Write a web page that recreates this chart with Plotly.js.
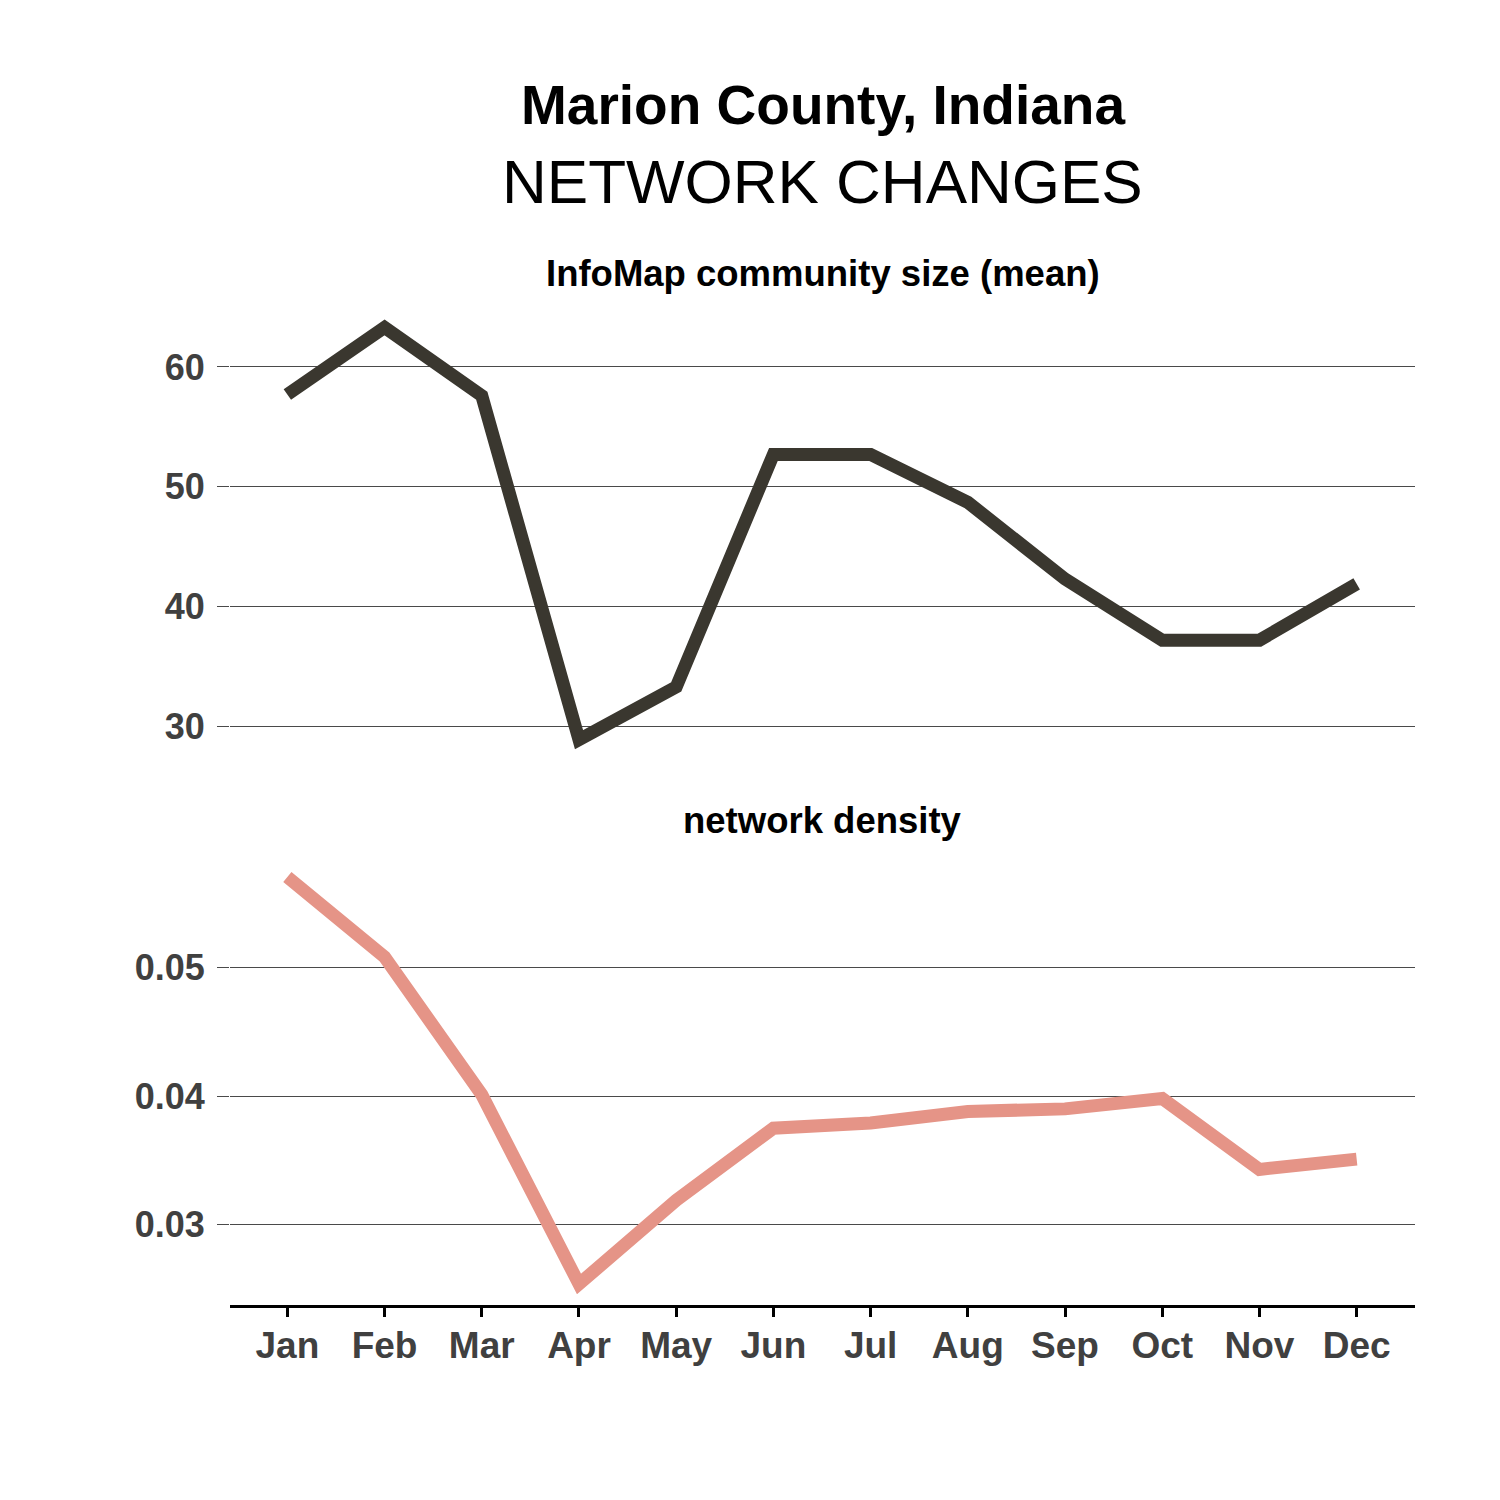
<!DOCTYPE html>
<html><head><meta charset="utf-8">
<script src="https://cdn.plot.ly/plotly-3.0.1.min.js"></script>
<style>body{margin:0;background:#fff}</style>
</head><body>
<div id="chart" style="width:1500px;height:1500px"></div>
<script>
const months = ["Jan","Feb","Mar","Apr","May","Jun","Jul","Aug","Sep","Oct","Nov","Dec"];
const communitySize = [57.7, 63.3, 57.6, 28.9, 33.3, 52.7, 52.7, 48.7, 42.3, 37.2, 37.2, 41.9];
const networkDensity = [0.0570, 0.0508, 0.0401, 0.0254, 0.0319, 0.0375, 0.0379, 0.0388, 0.0390, 0.0398, 0.0343, 0.0351];
const sizeTicks = [30, 40, 50, 60];
const densityTicks = [0.03, 0.04, 0.05];

const FONT = "Liberation Sans, Arial, sans-serif";
const H = 1500, T = 307, B = 195;
const plotH = H - T - B;
const py = px => (H - B - px) / plotH;

const traces = [
  {x: months, y: communitySize, xaxis: 'x', yaxis: 'y2', mode: 'lines', type: 'scatter',
   line: {color: '#3a372f', width: 13}, hoverinfo: 'skip'},
  {x: months, y: networkDensity, xaxis: 'x', yaxis: 'y', mode: 'lines', type: 'scatter',
   line: {color: '#e59487', width: 13}, hoverinfo: 'skip'}
];

const yCommon = {
  showline: false, zeroline: false, showgrid: true, gridcolor: '#4a4a4a', gridwidth: 1,
  ticks: 'outside', ticklen: 12, tickcolor: '#4a4a4a', tickwidth: 1, ticklabelstandoff: 5,
  tickfont: {family: FONT, size: 36, color: '#404040', weight: 'bold'}
};

const layout = {
  width: 1500, height: 1500,
  margin: {l: 230, r: 85, t: T, b: B},
  paper_bgcolor: '#fff', plot_bgcolor: '#fff',
  showlegend: false,
  xaxis: {
    type: 'category', range: [-0.59, 11.6], anchor: 'y',
    showline: true, linecolor: '#000', linewidth: 3,
    ticks: 'outside', ticklen: 9, tickwidth: 3, tickcolor: '#000', ticklabelstandoff: -3,
    showgrid: false, zeroline: false,
    tickfont: {family: FONT, size: 37, color: '#404040', weight: 'bold'}
  },
  yaxis: Object.assign({}, yCommon, {
    domain: [0, py(857)], range: [0.02377, 0.05856],
    tickvals: densityTicks, tickformat: '.2f'
  }),
  yaxis2: Object.assign({}, yCommon, {
    domain: [py(760), 1], range: [27.2, 65.0],
    tickvals: sizeTicks, anchor: 'x'
  }),
  annotations: [
    {text: '<b>Marion County, Indiana</b>', xref: 'paper', yref: 'paper', x: 0.5, y: py(105),
     xanchor: 'center', yanchor: 'middle', showarrow: false,
     font: {family: FONT, size: 55, color: '#000'}},
    {text: 'NETWORK CHANGES', xref: 'paper', yref: 'paper', x: 0.5, y: py(181),
     xanchor: 'center', yanchor: 'middle', showarrow: false,
     font: {family: FONT, size: 62, color: '#000'}},
    {text: '<b>InfoMap community size (mean)</b>', xref: 'paper', yref: 'paper', x: 0.5, y: py(273),
     xanchor: 'center', yanchor: 'middle', showarrow: false,
     font: {family: FONT, size: 36.5, color: '#000'}},
    {text: '<b>network density</b>', xref: 'paper', yref: 'paper', x: 0.5, y: py(820),
     xanchor: 'center', yanchor: 'middle', showarrow: false,
     font: {family: FONT, size: 36.5, color: '#000'}}
  ]
};

Plotly.newPlot('chart', traces, layout, {staticPlot: true, displayModeBar: false});
</script>
</body></html>
